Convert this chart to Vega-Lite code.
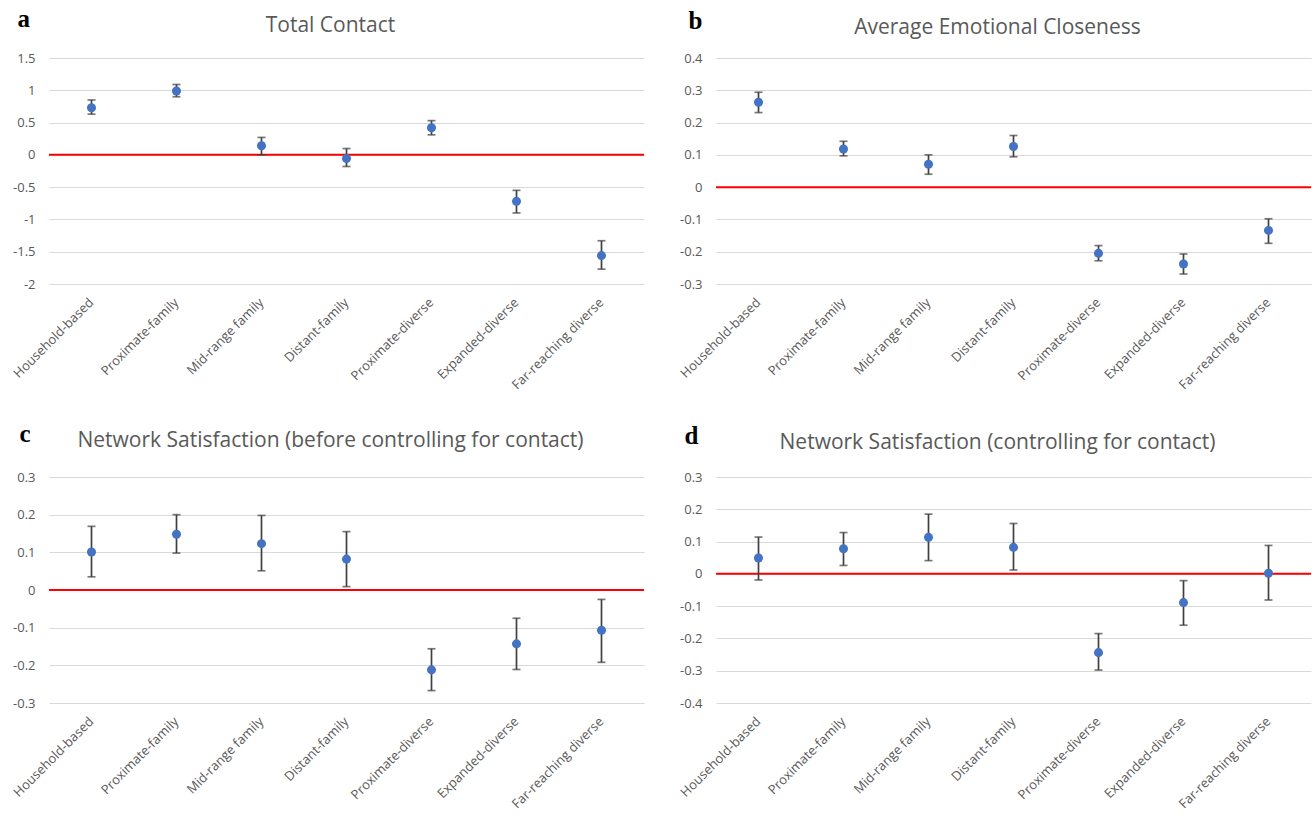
{
  "$schema": "https://vega.github.io/schema/vega-lite/v6.json",
  "background": "white",
  "padding": {"left": 11, "top": 6, "right": 0, "bottom": 0},
  "config": {
    "view": {"stroke": null},
    "font": "Open Sans",
    "axis": {"labelFont": "Open Sans", "labelColor": "#595959", "labelFontSize": 13, "domain": false, "ticks": false, "gridColor": "#D9D9D9", "gridWidth": 1, "labelOverlap": false},
    "title": {"font": "Open Sans", "fontSize": 21, "fontWeight": "normal", "color": "#595959", "anchor": "middle", "frame": "group", "offset": -30, "dx": -16}
  },
  "datasets": {
    "a": [
      {"t": "Household-based", "m": 0.73, "lo": 0.63, "hi": 0.85},
      {"t": "Proximate-family", "m": 0.99, "lo": 0.9, "hi": 1.09},
      {"t": "Mid-range family", "m": 0.14, "lo": 0.0, "hi": 0.27},
      {"t": "Distant-family", "m": -0.057, "lo": -0.18, "hi": 0.098},
      {"t": "Proximate-diverse", "m": 0.42, "lo": 0.31, "hi": 0.53},
      {"t": "Expanded-diverse", "m": -0.72, "lo": -0.9, "hi": -0.55},
      {"t": "Far-reaching diverse", "m": -1.56, "lo": -1.77, "hi": -1.33}
    ],
    "b": [
      {"t": "Household-based", "m": 0.263, "lo": 0.231, "hi": 0.294},
      {"t": "Proximate-family", "m": 0.118, "lo": 0.097, "hi": 0.142},
      {"t": "Mid-range family", "m": 0.071, "lo": 0.04, "hi": 0.1},
      {"t": "Distant-family", "m": 0.126, "lo": 0.094, "hi": 0.16},
      {"t": "Proximate-diverse", "m": -0.205, "lo": -0.228, "hi": -0.181},
      {"t": "Expanded-diverse", "m": -0.238, "lo": -0.269, "hi": -0.207},
      {"t": "Far-reaching diverse", "m": -0.134, "lo": -0.174, "hi": -0.098}
    ],
    "c": [
      {"t": "Household-based", "m": 0.101, "lo": 0.035, "hi": 0.169},
      {"t": "Proximate-family", "m": 0.148, "lo": 0.098, "hi": 0.2},
      {"t": "Mid-range family", "m": 0.123, "lo": 0.051, "hi": 0.198},
      {"t": "Distant-family", "m": 0.082, "lo": 0.009, "hi": 0.155},
      {"t": "Proximate-diverse", "m": -0.212, "lo": -0.267, "hi": -0.156},
      {"t": "Expanded-diverse", "m": -0.143, "lo": -0.211, "hi": -0.075},
      {"t": "Far-reaching diverse", "m": -0.107, "lo": -0.192, "hi": -0.025}
    ],
    "d": [
      {"t": "Household-based", "m": 0.049, "lo": -0.019, "hi": 0.114},
      {"t": "Proximate-family", "m": 0.078, "lo": 0.026, "hi": 0.128},
      {"t": "Mid-range family", "m": 0.113, "lo": 0.041, "hi": 0.185},
      {"t": "Distant-family", "m": 0.082, "lo": 0.012, "hi": 0.156},
      {"t": "Proximate-diverse", "m": -0.244, "lo": -0.298, "hi": -0.185},
      {"t": "Expanded-diverse", "m": -0.089, "lo": -0.159, "hi": -0.021},
      {"t": "Far-reaching diverse", "m": 0.002, "lo": -0.081, "hi": 0.088}
    ]
  },
  "bounds": "flush",
  "columns": 2,
  "spacing": {"row": 193, "column": 72},
  "concat": [
        {
          "width": 595, "height": 226,
          "title": {"text": "Total Contact"},
          "data": {"name": "a"},
          "layer": [
            {"data": {"values": [{}]}, "mark": {"type": "rule", "color": "#FF0000", "strokeWidth": 2}, "encoding": {"y": {"datum": 0, "type": "quantitative"}}},
            {"mark": {"type": "errorbar", "color": "#404040", "thickness": 1.7, "ticks": {"size": 8, "color": "#404040", "thickness": 1.7}},
             "encoding": {
               "x": {"field": "t", "type": "nominal", "sort": null, "scale": {"type": "band", "paddingInner": 0, "paddingOuter": 0}, "axis": {"title": null, "labelAngle": -45, "labelAlign": "right", "labelBaseline": "middle", "labelPadding": 16, "grid": false}},
               "y": {"field": "lo", "type": "quantitative", "scale": {"domain": [-2, 1.5], "nice": false, "zero": false}, "axis": {"values": [-2, -1.5, -1, -0.5, 0, 0.5, 1, 1.5], "tickCount": 20, "format": "~g", "labelExpr": "replace(datum.label, '−', '-')", "labelPadding": 14, "grid": true, "title": "a", "titleAngle": 0, "titleAlign": "left", "titleBaseline": "alphabetic", "titleX": -32, "titleY": -32, "titleFont": "Liberation Serif", "titleFontSize": 25, "titleFontWeight": "bold", "titleColor": "#000000"}},
               "y2": {"field": "hi"}
             }},
            {"mark": {"type": "circle", "size": 82, "color": "#4472C4", "opacity": 1},
             "encoding": {
               "x": {"field": "t", "type": "nominal", "sort": null},
               "y": {"field": "m", "type": "quantitative"}
             }}
          ]
        },
        {
          "width": 595, "height": 226,
          "title": {"text": "Average Emotional Closeness"},
          "data": {"name": "b"},
          "layer": [
            {"data": {"values": [{}]}, "mark": {"type": "rule", "color": "#FF0000", "strokeWidth": 2}, "encoding": {"y": {"datum": 0, "type": "quantitative"}}},
            {"mark": {"type": "errorbar", "color": "#404040", "thickness": 1.7, "ticks": {"size": 8, "color": "#404040", "thickness": 1.7}},
             "encoding": {
               "x": {"field": "t", "type": "nominal", "sort": null, "scale": {"type": "band", "paddingInner": 0, "paddingOuter": 0}, "axis": {"title": null, "labelAngle": -45, "labelAlign": "right", "labelBaseline": "middle", "labelPadding": 16, "grid": false}},
               "y": {"field": "lo", "type": "quantitative", "scale": {"domain": [-0.3, 0.4], "nice": false, "zero": false}, "axis": {"values": [-0.3, -0.2, -0.1, 0, 0.1, 0.2, 0.3, 0.4], "tickCount": 20, "format": "~g", "labelExpr": "replace(datum.label, '−', '-')", "labelPadding": 14, "grid": true, "title": "b", "titleAngle": 0, "titleAlign": "left", "titleBaseline": "alphabetic", "titleX": -28, "titleY": -30, "titleFont": "Liberation Serif", "titleFontSize": 25, "titleFontWeight": "bold", "titleColor": "#000000"}},
               "y2": {"field": "hi"}
             }},
            {"mark": {"type": "circle", "size": 82, "color": "#4472C4", "opacity": 1},
             "encoding": {
               "x": {"field": "t", "type": "nominal", "sort": null},
               "y": {"field": "m", "type": "quantitative"}
             }}
          ]
        },
        {
          "width": 595, "height": 226,
          "title": {"text": "Network Satisfaction (before controlling for contact)"},
          "data": {"name": "c"},
          "layer": [
            {"data": {"values": [{}]}, "mark": {"type": "rule", "color": "#FF0000", "strokeWidth": 2}, "encoding": {"y": {"datum": 0, "type": "quantitative"}}},
            {"mark": {"type": "errorbar", "color": "#404040", "thickness": 1.7, "ticks": {"size": 8, "color": "#404040", "thickness": 1.7}},
             "encoding": {
               "x": {"field": "t", "type": "nominal", "sort": null, "scale": {"type": "band", "paddingInner": 0, "paddingOuter": 0}, "axis": {"title": null, "labelAngle": -45, "labelAlign": "right", "labelBaseline": "middle", "labelPadding": 16, "grid": false}},
               "y": {"field": "lo", "type": "quantitative", "scale": {"domain": [-0.3, 0.3], "nice": false, "zero": false}, "axis": {"values": [-0.3, -0.2, -0.1, 0, 0.1, 0.2, 0.3], "tickCount": 20, "format": "~g", "labelExpr": "replace(datum.label, '−', '-')", "labelPadding": 14, "grid": true, "title": "c", "titleAngle": 0, "titleAlign": "left", "titleBaseline": "alphabetic", "titleX": -30, "titleY": -36, "titleFont": "Liberation Serif", "titleFontSize": 25, "titleFontWeight": "bold", "titleColor": "#000000"}},
               "y2": {"field": "hi"}
             }},
            {"mark": {"type": "circle", "size": 82, "color": "#4472C4", "opacity": 1},
             "encoding": {
               "x": {"field": "t", "type": "nominal", "sort": null},
               "y": {"field": "m", "type": "quantitative"}
             }}
          ]
        },
        {
          "width": 595, "height": 226,
          "title": {"text": "Network Satisfaction (controlling for contact)"},
          "data": {"name": "d"},
          "layer": [
            {"data": {"values": [{}]}, "mark": {"type": "rule", "color": "#FF0000", "strokeWidth": 2}, "encoding": {"y": {"datum": 0, "type": "quantitative"}}},
            {"mark": {"type": "errorbar", "color": "#404040", "thickness": 1.7, "ticks": {"size": 8, "color": "#404040", "thickness": 1.7}},
             "encoding": {
               "x": {"field": "t", "type": "nominal", "sort": null, "scale": {"type": "band", "paddingInner": 0, "paddingOuter": 0}, "axis": {"title": null, "labelAngle": -45, "labelAlign": "right", "labelBaseline": "middle", "labelPadding": 16, "grid": false}},
               "y": {"field": "lo", "type": "quantitative", "scale": {"domain": [-0.4, 0.3], "nice": false, "zero": false}, "axis": {"values": [-0.4, -0.3, -0.2, -0.1, 0, 0.1, 0.2, 0.3], "tickCount": 20, "format": "~g", "labelExpr": "replace(datum.label, '−', '-')", "labelPadding": 14, "grid": true, "title": "d", "titleAngle": 0, "titleAlign": "left", "titleBaseline": "alphabetic", "titleX": -32, "titleY": -34, "titleFont": "Liberation Serif", "titleFontSize": 25, "titleFontWeight": "bold", "titleColor": "#000000"}},
               "y2": {"field": "hi"}
             }},
            {"mark": {"type": "circle", "size": 82, "color": "#4472C4", "opacity": 1},
             "encoding": {
               "x": {"field": "t", "type": "nominal", "sort": null},
               "y": {"field": "m", "type": "quantitative"}
             }}
          ]
        }
  ]
}
